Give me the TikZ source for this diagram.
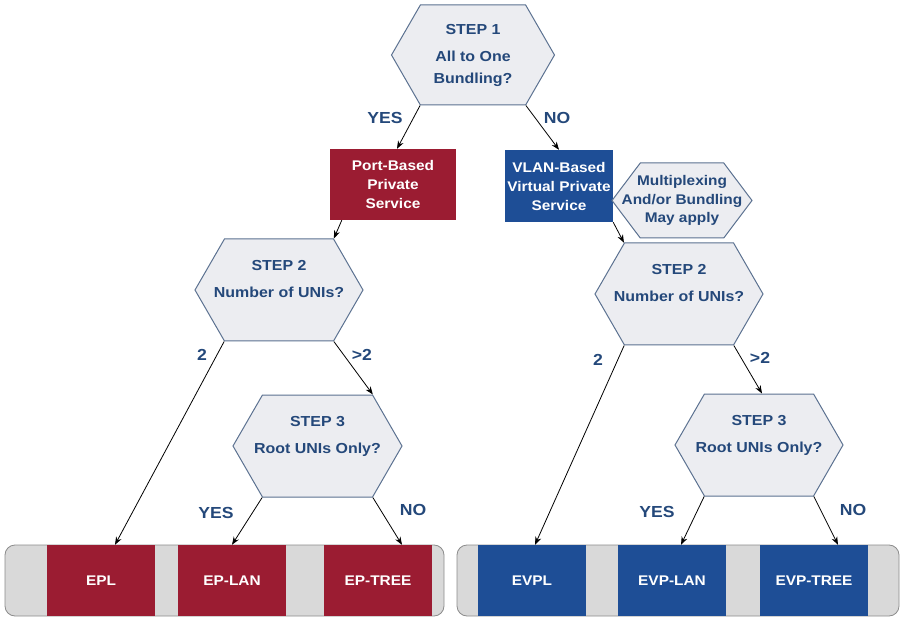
\documentclass[tikz,border=0pt]{standalone}
\usepackage{fontspec}
\setmainfont{Liberation Sans}[FakeStretch=1.1]
\usepackage{xcolor}
\usetikzlibrary{shapes.symbols, arrows.meta}
\definecolor{hexFill}{RGB}{236,237,241}
\definecolor{hexLine}{RGB}{92,114,145}
\definecolor{txtBlue}{RGB}{36,72,122}
\definecolor{epRed}{RGB}{155,28,50}
\definecolor{evpBlue}{RGB}{30,78,150}
\definecolor{bandGray}{RGB}{217,217,217}
\definecolor{bandLine}{RGB}{140,140,140}

\begin{document}
\begin{tikzpicture}[x=1pt, y=-1pt, every node/.style={inner sep=0pt},
  hex/.style={shape=signal, signal to=west and east, signal pointer angle=120,
    draw=hexLine, fill=hexFill, line width=1pt},
  hextext/.style={text=txtBlue, align=center, font=\fontsize{14.5}{22}\selectfont\bfseries},
  svc/.style={text=white, align=center, minimum width=108, minimum height=71,
    font=\fontsize{14}{19}\selectfont\bfseries},
  band/.style={draw=bandLine, fill=bandGray, line width=0.8pt, rounded corners=10pt,
    minimum height=71},
  lbl/.style={text=txtBlue, font=\fontsize{16}{16}\selectfont\bfseries},
  conn/.style={-{Stealth[length=8pt, width=6pt]}, line width=0.8pt, black}]
\useasboundingbox (0,0) rectangle (902,617);

\node[hex, minimum width=163, minimum height=100] (Hstep1) at (473,55) {};
\node[hextext] (Tstep1) at (Hstep1.center) {STEP 1\\[5pt]All to One\\Bundling?};
\node[svc, fill=epRed, minimum width=126] (BportPriv) at (393,184.5)
  {Port-Based\\Private\\Service};
\node[svc, fill=evpBlue, minimum height=72] (BvlanVirt) at (559,186)
  {VLAN-Based\\Virtual Private\\Service};
\node[hex, minimum width=140, minimum height=75, signal pointer angle=106] (Hmux)
  at (682,200.5) {};
\node[hextext, font=\fontsize{14}{18.5}\selectfont\bfseries] (Tmux) at (Hmux.center)
  {Multiplexing\\And/or Bundling\\May apply};

\node[hex, minimum width=168, minimum height=102] (HnumL) at (279,290) {};
\node[hextext] (TnumL) at (HnumL.center) {STEP 2\\[5pt]Number of UNIs?\\\mbox{}};
\node[hex, minimum width=168, minimum height=102] (HnumR) at (679,294) {};
\node[hextext] (TnumR) at (HnumR.center) {STEP 2\\[5pt]Number of UNIs?\\\mbox{}};
\node[hex, minimum width=169, minimum height=102] (HrootL) at (317.5,446) {};
\node[hextext] (TrootL) at (HrootL.center) {STEP 3\\[5pt]Root UNIs Only?\\\mbox{}};
\node[hex, minimum width=168, minimum height=102] (HrootR) at (759,445) {};
\node[hextext] (TrootR) at (HrootR.center) {STEP 3\\[5pt]Root UNIs Only?\\\mbox{}};

\node[band, minimum width=439] (BandEP) at (224.5,580.5) {};
\node[band, minimum width=442] (BandEVP) at (678,580.5) {};
\node[svc, fill=epRed] (Sepl) at (101,580.5) {EPL};
\node[svc, fill=epRed] (Seplan) at (232,580.5) {EP-LAN};
\node[svc, fill=epRed] (Septree) at (378,580.5) {EP-TREE};
\node[svc, fill=evpBlue] (Sevpl) at (532,580.5) {EVPL};
\node[svc, fill=evpBlue] (Sevplan) at (672,580.5) {EVP-LAN};
\node[svc, fill=evpBlue] (Sevptree) at (814,580.5) {EVP-TREE};

\node[lbl] (Lyes1) at (385,118) {YES};
\node[lbl] (Lno1) at (557,118) {NO};
\node[lbl] (LtwoL) at (202,355) {2};
\node[lbl] (LmoreL) at (362,355) {>2};
\node[lbl] (LtwoR) at (598,360) {2};
\node[lbl] (LmoreR) at (760,358) {>2};
\node[lbl] (LyesL) at (216,513) {YES};
\node[lbl] (LnoL) at (413,510) {NO};
\node[lbl] (LyesR) at (657,512) {YES};
\node[lbl] (LnoR) at (853,510) {NO};

\draw[conn] (Hstep1.south west) -- ([xshift=4]BportPriv.north);
\draw[conn] (Hstep1.south east) -- (BvlanVirt.north);
\draw[conn] ([xshift=12]BportPriv.south west) -- (HnumL.north east);
\draw[conn] (BvlanVirt.south east) -- (HnumR.north west);
\draw[conn] (HnumL.south west) -- ([xshift=14]Sepl.north);
\draw[conn] (HnumL.south east) -- (HrootL.north east);
\draw[conn] (HrootL.south west) -- (Seplan.north);
\draw[conn] (HrootL.south east) -- ([xshift=24]Septree.north);
\draw[conn] (HnumR.south west) -- ([xshift=3]Sevpl.north);
\draw[conn] (HnumR.south east) -- ([xshift=3]HrootR.north);
\draw[conn] (HrootR.south west) -- ([xshift=9]Sevplan.north);
\draw[conn] (HrootR.south east) -- ([xshift=24]Sevptree.north);
\end{tikzpicture}
\end{document}
